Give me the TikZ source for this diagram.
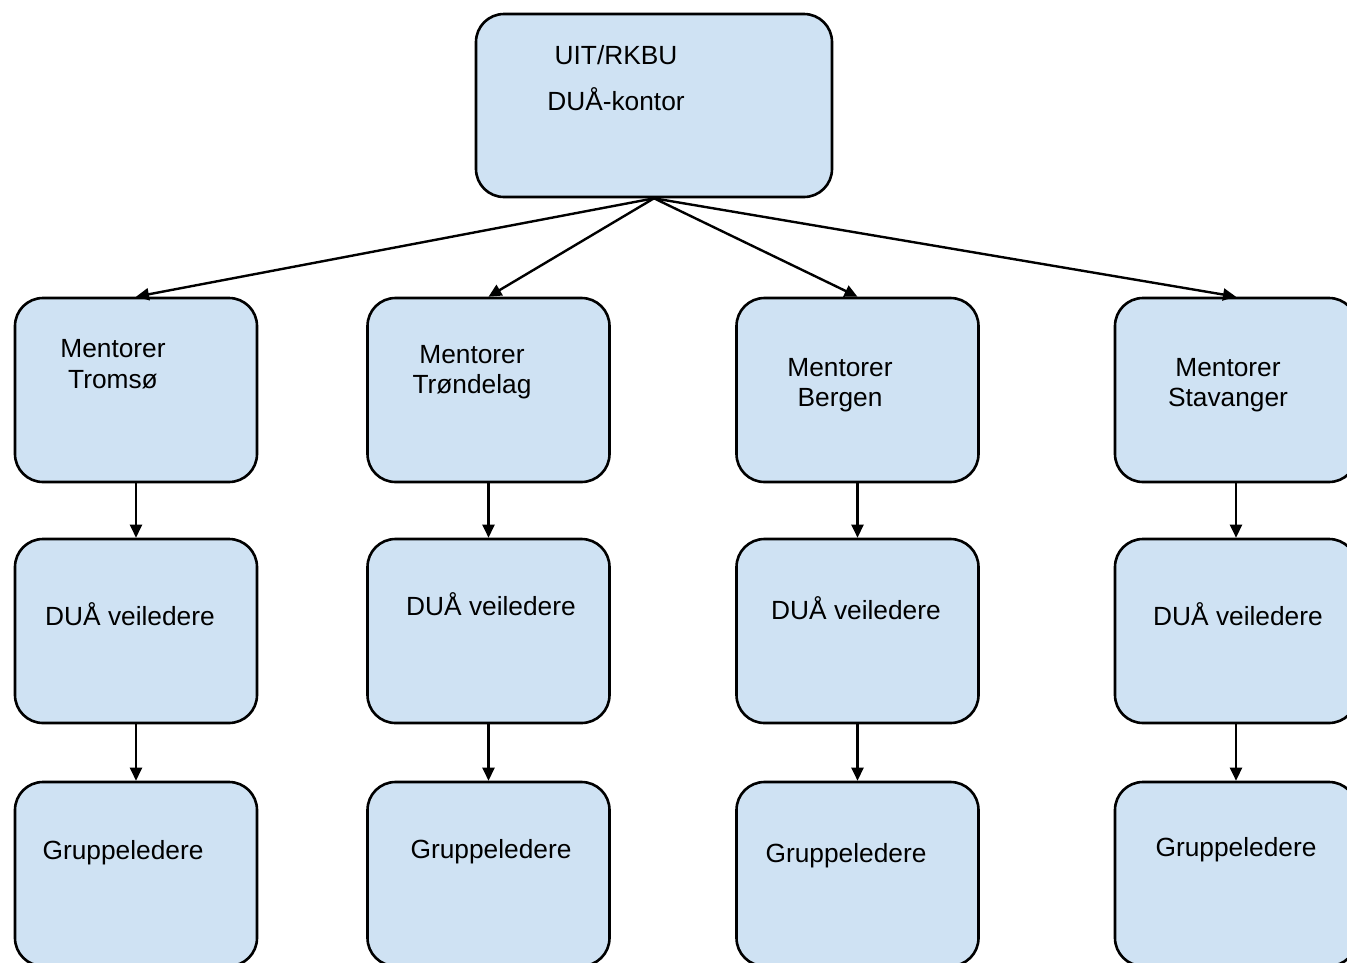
\documentclass[tikz,border=0pt]{standalone}
\usepackage{fontspec}
\setmainfont{Liberation Sans}
\usetikzlibrary{arrows.meta}
\definecolor{boxblue}{HTML}{CFE2F3}
\tikzset{
  box/.style={draw=black, line width=2.6pt, fill=boxblue, rounded corners=28pt,
    minimum width=242pt, minimum height=184pt, inner sep=0pt},
  topbox/.style={box, minimum width=356pt, minimum height=183pt},
  lbl/.style={align=center, inner sep=0pt, font=\fontsize{26.3}{30.5}\selectfont},
  conn/.style={line width=2.4pt, -{Triangle[length=13pt,width=12pt]}}
}
\begin{document}
\begin{tikzpicture}[x=1pt,y=-1pt]
\useasboundingbox (0,0) rectangle (1347,962);
\clip (0,0) rectangle (1347,962);
\fill[white] (0,0) rectangle (1347,962);
% boxes
\node[topbox] (top) at (654,105.5) {};
\node[box] (m1) at (136,390) {};
\node[box] (m2) at (488.5,390) {};
\node[box] (m3) at (857.5,390) {};
\node[box] (m4) at (1236,390) {};
\node[box] (v1) at (136,631) {};
\node[box] (v2) at (488.5,631) {};
\node[box] (v3) at (857.5,631) {};
\node[box] (v4) at (1236,631) {};
\node[box] (g1) at (136,874) {};
\node[box] (g2) at (488.5,874) {};
\node[box] (g3) at (857.5,874) {};
\node[box] (g4) at (1236,874) {};
% labels
\node[lbl] (t1) at (616,55.5) {UIT/RKBU};
\node[lbl] (t2) at (616,99.5) {DUÅ-kontor};
\node[lbl] (lm1) at (113,364) {Mentorer\\Tromsø};
\node[lbl] (lm2) at (472,372) {Mentorer\\Trøndelag};
\node[lbl] (lm3) at (840,385) {Mentorer\\Bergen};
\node[lbl] (lm4) at (1228,385) {Mentorer\\Stavanger};
\node[lbl] (lv1) at (130,614) {DUÅ veiledere};
\node[lbl] (lv2) at (491,604) {DUÅ veiledere};
\node[lbl] (lv3) at (856,608) {DUÅ veiledere};
\node[lbl] (lv4) at (1238,614) {DUÅ veiledere};
\node[lbl] (lg1) at (123,853) {Gruppeledere};
\node[lbl] (lg2) at (491,852) {Gruppeledere};
\node[lbl] (lg3) at (846,856) {Gruppeledere};
\node[lbl] (lg4) at (1236,850) {Gruppeledere};
% connectors
\foreach \i in {1,2,3,4}{
  \draw[conn] (top.south) -- (m\i.north);
  \draw[conn] (m\i.south) -- (v\i.north);
  \draw[conn] (v\i.south) -- (g\i.north);
}
\end{tikzpicture}
\end{document}
